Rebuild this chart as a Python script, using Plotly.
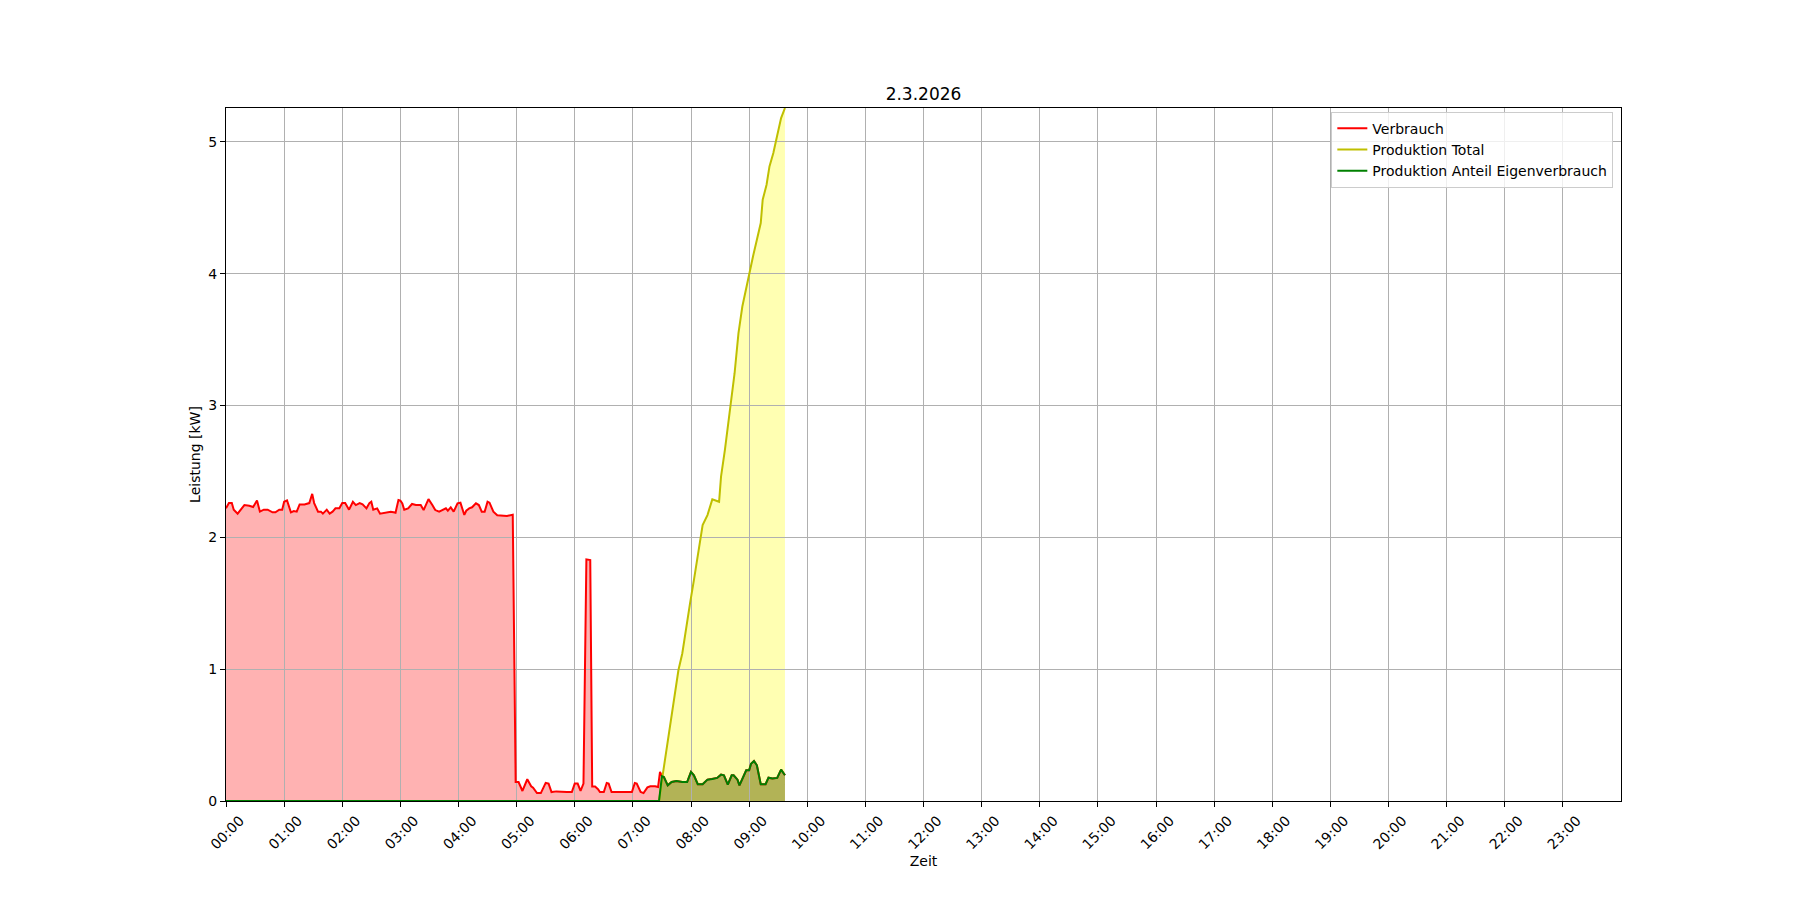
import pandas as pd
import plotly.graph_objects as go

datum = "2026-03-02"
titel = "2.3.2026"

# Verbrauch (minutes since midnight, kW)
verbrauch_min = [0, 3, 6, 8, 12, 15, 19, 24, 28, 32, 35, 39, 43, 48, 51, 55, 58, 60, 63, 67,
                 70, 73, 76, 81, 86, 89, 91, 95, 98, 100, 104, 107, 110, 113, 117, 120, 123, 127, 131, 134,
                 138, 141, 145, 148, 150, 152, 156, 159, 163, 166, 170, 173, 175, 178, 180, 182, 184, 188, 192, 196,
                 201, 204, 209, 213, 216, 220, 223, 227, 229, 232, 235, 239, 242, 246, 248, 251, 254, 258, 261, 264,
                 267, 270, 272, 276, 280, 285, 290, 296, 299, 302, 306, 311, 315, 317, 321, 325, 330, 333, 336, 341,
                 347, 352, 357, 360, 363, 366, 369, 372, 376, 378, 381, 384, 386, 390, 393, 395, 398, 403, 409, 414,
                 419, 422, 424, 428, 431, 435, 438, 443, 446, 448,
                 450, 452, 456, 460, 465, 471, 476, 480, 483, 487, 492, 497, 502, 507, 511, 514, 518, 522, 524, 528,
                 530, 535, 537, 540, 542, 545, 548, 552, 557, 560, 564, 569, 573, 577]
verbrauch_kw = [2.22, 2.26, 2.26, 2.21, 2.18, 2.21, 2.245, 2.24, 2.23, 2.28, 2.195, 2.21, 2.21, 2.19, 2.19, 2.21, 2.21, 2.27, 2.28, 2.19,
                2.20, 2.195, 2.25, 2.25, 2.26, 2.33, 2.26, 2.195, 2.195, 2.18, 2.21, 2.18, 2.195, 2.22, 2.22, 2.26, 2.26, 2.21, 2.27, 2.245,
                2.26, 2.25, 2.22, 2.26, 2.27, 2.21, 2.22, 2.18, 2.185, 2.19, 2.195, 2.19, 2.187, 2.283, 2.278, 2.258, 2.21, 2.22, 2.253, 2.245,
                2.245, 2.207, 2.29, 2.245, 2.207, 2.195, 2.207, 2.22, 2.202, 2.228, 2.195, 2.258, 2.263, 2.17, 2.202, 2.22, 2.228, 2.258, 2.245, 2.195,
                2.195, 2.27, 2.263, 2.195, 2.167, 2.162, 2.162, 2.172, 0.144, 0.144, 0.076, 0.165, 0.112, 0.101, 0.060, 0.060, 0.137, 0.132, 0.068, 0.073,
                0.068, 0.068, 0.068, 0.132, 0.132, 0.076, 0.132, 1.833, 1.828, 0.11, 0.11, 0.09, 0.068, 0.068, 0.137, 0.132, 0.068, 0.068, 0.068, 0.068,
                0.068, 0.137, 0.132, 0.068, 0.060, 0.103, 0.112, 0.112, 0.106, 0.22,
                0.188, 0.182, 0.119, 0.144, 0.152, 0.144, 0.144, 0.220, 0.195, 0.127, 0.127, 0.162, 0.167, 0.175, 0.200, 0.195, 0.124, 0.195, 0.195, 0.162,
                0.119, 0.207, 0.233, 0.233, 0.283, 0.303, 0.271, 0.127, 0.127, 0.177, 0.170, 0.175, 0.238, 0.195]

# Produktion Total
prod_total_min = [0, 447, 451, 459, 467, 471, 474, 479, 483, 488, 492, 497, 502, 509, 511, 515, 519, 522, 525, 529,
                  533, 537, 540, 544, 548, 552, 554, 558, 561, 565, 568, 570, 573, 577]
prod_total_kw = [0.0, 0.0, 0.208, 0.613, 0.992, 1.119, 1.271, 1.499, 1.676, 1.929, 2.093, 2.169, 2.288, 2.270, 2.460, 2.663, 2.891, 3.030, 3.245, 3.549,
                 3.751, 3.890, 4.005, 4.131, 4.257, 4.384, 4.561, 4.675, 4.814, 4.915, 5.016, 5.080, 5.181, 5.257]

# Produktion Anteil Eigenverbrauch
eigen_min = [0, 447, 450, 452, 456, 460, 465, 471, 476, 480, 483, 487, 492, 497, 502, 507, 511, 514, 518, 522,
             524, 528, 530, 535, 537, 540, 542, 545, 548, 552, 557, 560, 564, 569, 573, 577]
eigen_kw = [0.0, 0.0, 0.188, 0.182, 0.119, 0.144, 0.152, 0.144, 0.144, 0.220, 0.195, 0.127, 0.127, 0.162, 0.167, 0.175, 0.200, 0.195, 0.124, 0.195,
            0.195, 0.162, 0.119, 0.207, 0.233, 0.233, 0.283, 0.303, 0.271, 0.127, 0.127, 0.177, 0.170, 0.175, 0.238, 0.195]

tick_labels = ["00:00", "01:00", "02:00", "03:00", "04:00", "05:00", "06:00", "07:00", "08:00", "09:00", "10:00", "11:00",
               "12:00", "13:00", "14:00", "15:00", "16:00", "17:00", "18:00", "19:00", "20:00", "21:00", "22:00", "23:00"]
y_ticks = [0, 1, 2, 3, 4, 5]

base = pd.Timestamp(datum)


def zeiten(mins):
    return base + pd.to_timedelta(mins, unit="m")


series = [
    ("Verbrauch", verbrauch_min, verbrauch_kw, "#ff0000", "rgba(255,0,0,0.3)"),
    ("Produktion Total", prod_total_min, prod_total_kw, "#bfbf00", "rgba(255,255,0,0.3)"),
    ("Produktion Anteil Eigenverbrauch", eigen_min, eigen_kw, "#008000", "rgba(0,128,0,0.3)"),
]

fig = go.Figure()
# fills on the lower (hidden) subplot, so that the grid of the upper subplot lies above them
for name, mins, vals, lc, fc in series:
    fig.add_trace(go.Scatter(x=zeiten(mins), y=vals, mode="none", fill="tozeroy", fillcolor=fc,
                             showlegend=False, hoverinfo="skip", xaxis="x", yaxis="y"))
for name, mins, vals, lc, fc in series:
    fig.add_trace(go.Scatter(x=zeiten(mins), y=vals, mode="lines", name=name,
                             line=dict(color=lc, width=2), xaxis="x2", yaxis="y2"))

tickvals = [base + pd.Timedelta(hours=int(lbl[:2])) for lbl in tick_labels]
x_range = [base, base + pd.Timedelta(hours=24)]
y_range = [0, max(prod_total_kw)]

W, H = 1784, 884
fig.update_layout(
    width=W, height=H,
    margin=dict(l=218, r=171, t=100, b=91),
    paper_bgcolor="white", plot_bgcolor="rgba(0,0,0,0)",
    font=dict(family="DejaVu Sans", size=14, color="black"),
    title=dict(text=titel, xref="paper", x=0.5, xanchor="center", y=1 - 86 / H, yanchor="middle",
               font=dict(size=17, color="black")),
    legend=dict(x=0.9945, xanchor="right", y=0.9947, yanchor="top", bgcolor="rgba(255,255,255,0.8)",
                bordercolor="#cccccc", borderwidth=1, font=dict(size=14), tracegroupgap=0),
    showlegend=True,
    xaxis=dict(type="date", range=x_range, domain=[0, 1], anchor="y", visible=False, fixedrange=True),
    yaxis=dict(range=y_range, domain=[0, 1], anchor="x", visible=False, fixedrange=True),
    xaxis2=dict(
        type="date", range=x_range, domain=[0, 1], anchor="y2",
        tickvals=tickvals, ticktext=tick_labels, tickangle=-45, ticklabelshift=14,
        showgrid=True, gridcolor="#b0b0b0", gridwidth=1, zeroline=False,
        showline=True, linecolor="black", linewidth=1, mirror=True,
        ticks="outside", ticklen=5, tickcolor="black",
        title=dict(text="Zeit", standoff=4, font=dict(size=14)),
    ),
    yaxis2=dict(
        range=y_range, domain=[0, 1], anchor="x2", tickvals=y_ticks,
        showgrid=True, gridcolor="#b0b0b0", gridwidth=1, zeroline=False,
        showline=True, linecolor="black", linewidth=1, mirror=True,
        ticks="outside", ticklen=5, tickcolor="black",
        title=dict(text="Leistung [kW]", standoff=4, font=dict(size=14)),
    ),
)

fig.write_html("out.html")
